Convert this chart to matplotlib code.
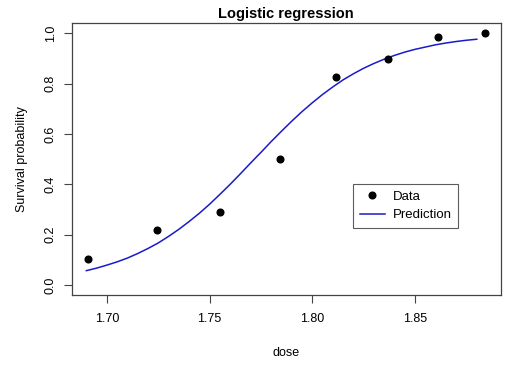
import matplotlib.pyplot as plt
from matplotlib.lines import Line2D

plt.rcParams['font.family'] = ['Liberation Sans', 'DejaVu Sans']

# beetle mortality data: dose vs observed proportion
dose = [1.6907, 1.7242, 1.7552, 1.7842, 1.8113, 1.8369, 1.8610, 1.8839]
surv = [0.1017, 0.2167, 0.2903, 0.5000, 0.8254, 0.8983, 0.9839, 1.0000]

# fitted curve
dose_fit = [1.690, 1.695, 1.700, 1.705, 1.710, 1.715, 1.720, 1.725, 1.730, 1.735,
            1.740, 1.745, 1.750, 1.755, 1.760, 1.765, 1.770, 1.775, 1.780, 1.785,
            1.790, 1.795, 1.800, 1.805, 1.810, 1.815, 1.820, 1.825, 1.830, 1.835,
            1.840, 1.845, 1.850, 1.855, 1.860, 1.865, 1.870, 1.875, 1.880]
prob_fit = [0.057, 0.067, 0.079, 0.092, 0.107, 0.125, 0.145, 0.167, 0.193, 0.221,
            0.252, 0.285, 0.321, 0.360, 0.400, 0.442, 0.485, 0.527, 0.570, 0.611,
            0.651, 0.689, 0.724, 0.757, 0.787, 0.815, 0.839, 0.861, 0.880, 0.897,
            0.912, 0.925, 0.936, 0.945, 0.954, 0.961, 0.967, 0.972, 0.976]

fig = plt.figure(figsize=(5.14, 3.67), dpi=100)
ax = fig.add_axes([0.140, 0.196, 0.834, 0.741])

ax.plot(dose_fit, prob_fit, color='#1a1acc', lw=1.1, zorder=2)
ax.plot(dose, surv, 'o', color='black', ms=4.8, zorder=3)

ax.set_xlim(1.683, 1.8916)
ax.set_ylim(-0.04, 1.04)
ax.set_xticks([1.70, 1.75, 1.80, 1.85])
ax.set_xticklabels(['1.70', '1.75', '1.80', '1.85'])
ax.set_yticks([0.0, 0.2, 0.4, 0.6, 0.8, 1.0])
ax.set_yticklabels(['0.0', '0.2', '0.4', '0.6', '0.8', '1.0'], rotation=90, va='center')

for s in ax.spines.values():
    s.set_color('#444444')
    s.set_linewidth(0.9)
ax.tick_params(direction='out', length=6, width=0.8, color='#444444',
               labelsize=9, pad=7)
ax.tick_params(axis='y', pad=5)

ax.set_title('Logistic regression', fontsize=10.5, fontweight='bold', pad=4)
ax.set_xlabel('dose', fontsize=9, labelpad=16)
ax.set_ylabel('Survival probability', fontsize=9, labelpad=12)

handles = [Line2D([], [], marker='o', ls='none', color='black', ms=4.8),
           Line2D([], [], color='#1a1acc', lw=1.1)]
leg = ax.legend(handles, ['Data', 'Prediction'], loc='upper left',
                bbox_to_anchor=(0.656, 0.408), fontsize=9.5, frameon=True,
                fancybox=False, edgecolor='#333333', handlelength=1.9,
                borderpad=0.5, labelspacing=0.45, handletextpad=0.6,
                borderaxespad=0)
leg.get_frame().set_linewidth(0.8)

fig.savefig('out.png', dpi=100)
